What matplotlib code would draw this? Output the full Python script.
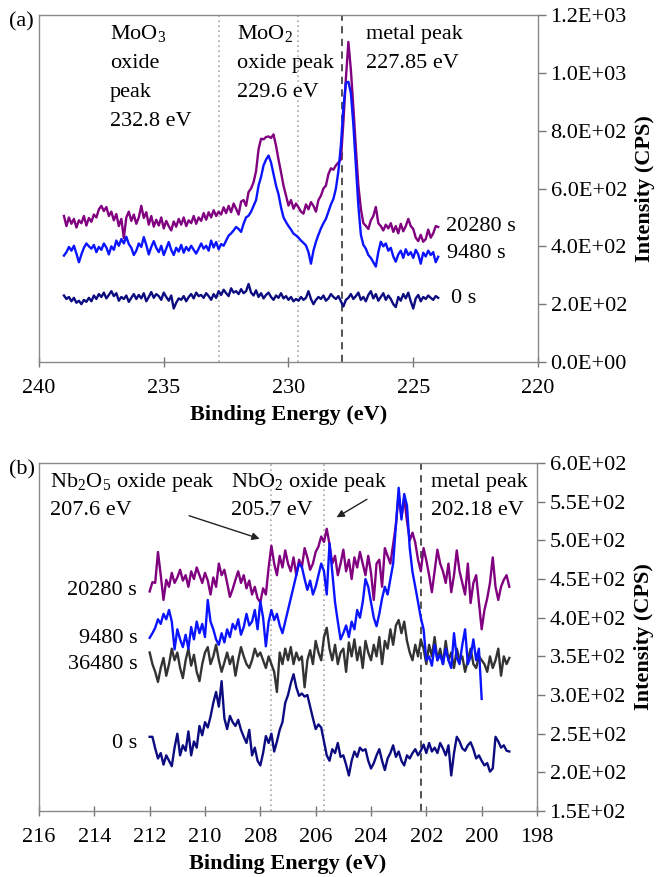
"""XPS depth profile: Mo 3d (a) and Nb 3d (b) spectra at several sputter times."""
import numpy as np
import matplotlib
matplotlib.use("Agg")
import matplotlib.pyplot as plt

plt.rcParams["font.family"] = ["Liberation Serif", "DejaVu Serif"]
plt.rcParams["mathtext.fontset"] = "custom"
plt.rcParams["mathtext.rm"] = "Liberation Serif"

# ---- panel (a): Mo 3d, 239.0 -> 224.0 eV in 0.1 eV channels ----
MO_BE = np.linspace(239.0, 224.0, 151)
MO_20280 = [
    505, 470, 500, 478, 495, 465, 490, 480, 505, 472,
    498, 485, 510, 500, 528, 540, 522, 536, 505, 520,
    490, 512, 470, 495, 428, 500, 520, 488, 510, 478,
    500, 540, 498, 518, 475, 505, 468, 492, 472, 500,
    462, 488, 470, 455, 486, 468, 495, 475, 500, 470,
    490, 480, 505, 478, 500, 488, 515, 492, 518, 500,
    525, 505, 520, 510, 535, 515, 540, 518, 548, 530,
    510, 555, 560, 540, 588, 600, 622, 660, 736, 772,
    770, 778, 780, 775, 787, 748, 700, 656, 610, 576,
    541, 560, 530, 548, 535, 520, 513, 545, 528, 553,
    540, 520, 560, 575, 600, 610, 650, 670, 665, 680,
    690, 700, 830, 980, 1107, 1010, 880, 740, 610, 530,
    480, 471, 460, 490, 505, 536, 480, 470, 455, 475,
    462, 480, 450, 470, 445, 478, 452, 470, 495, 470,
    460, 430, 418, 440, 416, 425, 458, 430, 445, 470,
    467,
]
MO_9480 = [
    368, 380, 398, 385, 402, 375, 345, 372, 395, 410,
    400, 392, 405, 380, 398, 388, 410, 396, 372, 400,
    388, 420, 402, 425, 410, 433, 408, 395, 370, 385,
    410, 398, 432, 405, 372, 398, 418, 395, 380, 402,
    370, 392, 415, 388, 370, 395, 382, 405, 378, 398,
    385, 402, 388, 375, 392, 410, 392, 402, 385, 420,
    396, 415, 390, 408, 402, 420, 437, 445, 455, 467,
    460, 450, 478, 500, 506, 520, 540, 560, 610, 640,
    680, 700, 714, 690, 650, 610, 580, 535, 500, 484,
    470, 458, 444, 438, 430, 420, 412, 403, 380, 340,
    385, 416, 440, 462, 480, 495, 520, 545, 564, 600,
    660, 750, 880, 965, 969, 930, 820, 680, 540, 440,
    405, 392, 370, 360, 345, 330, 380, 416, 400, 410,
    385, 395, 365, 347, 372, 385, 360, 390, 370, 380,
    360, 388, 372, 340, 378, 365, 385, 370, 380, 345,
    364,
]
MO_0 = [
    230, 218, 225, 210, 222, 205, 212, 200, 215, 208,
    222, 210, 230, 218, 235, 225, 240, 220, 232, 245,
    228, 238, 212, 225, 218, 230, 208, 222, 235, 218,
    232, 220, 238, 210, 225, 242, 222, 235, 228, 215,
    240, 225, 212, 230, 185, 205, 220, 215, 228, 210,
    225, 235, 220, 240, 228, 232, 222, 238, 228, 215,
    235, 222, 245, 232, 250, 238, 228, 255, 240, 245,
    235, 252, 238, 245, 270, 240, 230, 248, 225, 238,
    220, 232, 240, 225, 215, 230, 222, 238, 220, 228,
    215, 225, 210, 218, 212, 225, 215, 222, 245, 218,
    200, 215, 225, 218, 230, 212, 220, 235, 225, 218,
    228, 210, 192, 215, 222, 235, 218, 228, 240, 215,
    225, 210, 232, 245, 220, 235, 212, 225, 238, 215,
    230, 218, 200, 190, 225, 212, 235, 220, 240, 210,
    185, 220, 232, 210, 225, 218, 230, 222, 215, 228,
    222,
]
MO_PEAKS = [232.8, 229.6]
MO_METAL = 227.85

# ---- panel (b): Nb 3d, 212.0 -> 199.0 eV in 0.1 eV channels ----
NB_BE = np.linspace(212.0, 199.0, 131)
NB_20280 = [
    434, 446, 445, 485, 455, 423, 449, 440, 458, 445,
    452, 462, 448, 455, 440, 460, 450, 465, 455, 445,
    458, 448, 430, 452, 440, 470, 455, 462, 445, 427,
    437, 449, 460, 445, 455, 438, 448, 430, 440, 425,
    420, 438, 430, 465, 493, 470, 455, 480, 465, 487,
    470, 460, 478, 455, 475, 465, 490, 478, 462, 470,
    485, 492, 505, 498, 515, 495, 470, 480, 455, 470,
    488, 460, 475, 450, 478, 465, 485, 470, 455, 480,
    458, 423, 470, 475, 440, 490, 480, 470, 495, 520,
    560, 530, 555, 525, 500, 510, 497, 475, 460, 490,
    474, 455, 433, 460, 488, 470, 460, 445, 470, 433,
    455, 487, 460, 445, 430, 470, 419, 445, 455, 420,
    385, 410, 425, 445, 478, 440, 423, 440, 449, 455,
    440,
]
NB_9480 = [
    374, 380, 387, 398, 392, 405, 398, 410, 395, 359,
    385, 372, 362, 378, 360, 388, 372, 395, 380, 392,
    375, 423, 395, 385, 372, 365, 380, 368, 385, 375,
    392, 385, 398, 378, 388, 405, 390, 395, 410, 385,
    421, 400, 363, 395, 410, 397, 405, 390, 380, 395,
    410, 425, 440, 455, 470, 466, 450, 436, 448, 430,
    440, 455, 470, 460, 430, 496, 459, 420, 395, 372,
    380, 390, 375, 395, 385, 410, 400, 420, 450, 440,
    420, 400, 389, 405, 425, 440, 430, 450, 470, 520,
    568, 527, 560, 545, 490, 459, 440, 420, 400, 385,
    345, 350, 338, 365, 345, 352, 340, 360, 345, 335,
    380, 348, 340, 365, 385, 340, 350, 372, 345, 360,
    295,
]
NB_36480 = [
    355, 340, 330, 317, 335, 348, 325, 340, 360, 345,
    355, 335, 322, 345, 360, 338, 352, 330, 318, 340,
    355, 362, 340, 350, 365, 345, 330, 342, 355, 340,
    350, 325, 345, 362, 350, 340, 335, 345, 360, 350,
    355, 345, 335, 350, 340, 330, 304, 355, 340, 360,
    345, 362, 340, 355, 345, 350, 310, 345, 358, 340,
    370, 355, 345, 375, 387, 360, 345, 365, 340, 355,
    360, 330, 368, 350, 372, 345, 362, 335, 370, 355,
    345, 365, 350, 375, 340, 370, 360, 385, 365, 390,
    397, 380, 395, 370, 355, 345, 365, 350, 372, 360,
    340, 365, 350, 375, 345, 360, 340, 370, 345, 355,
    335, 360, 345, 350, 330, 345, 360, 340, 335, 350,
    345, 340, 330, 350, 335, 345, 360, 325, 350, 340,
    348,
]
NB_0 = [
    246, 246, 231, 218, 225, 210, 222, 215, 208, 232,
    250, 222, 235, 228, 253, 222, 240, 232, 260, 248,
    265, 258, 272, 290, 304, 285, 318, 270, 256, 273,
    265, 260, 268, 255, 246, 238, 255, 222, 232, 215,
    209, 225, 247, 238, 250, 227, 240, 255, 265, 290,
    300, 315, 327, 310, 299, 302, 298, 300, 285, 270,
    256, 262, 258, 240, 222, 215, 230, 225, 238, 220,
    222, 210, 196, 215, 227, 220, 232, 228, 230, 215,
    205, 212, 222, 230, 215, 203, 218, 225, 235, 220,
    227, 215, 209, 222, 218, 225, 230, 222, 228, 236,
    225, 238, 227, 232, 225, 238, 231, 222, 235, 196,
    225, 246, 240, 231, 228, 235, 239, 230, 218, 222,
    215, 209, 212, 201, 205, 246, 240, 232, 235, 228,
    227,
]
NB_PEAKS = [207.6, 205.7]
NB_METAL = 202.18

PURPLE = "#800080"
BLUE = "#0a14ff"
NAVY = "#0c0c80"
GREY = "#333333"
FS = 16


def style_axis(ax, xlim, xticks, ylim, yticks):
    ax.set_xlim(*xlim)
    ax.set_ylim(*ylim)
    ax.set_xticks(xticks)
    ax.set_yticks(yticks)
    ax.set_xticklabels([f"{t:g}" for t in xticks], fontsize=FS)
    ax.set_yticklabels([f"{t:.1E}" for t in yticks], fontsize=FS)
    ax.yaxis.tick_right()
    ax.yaxis.set_label_position("right")
    ax.tick_params(axis="x", direction="inout", length=7, width=1, color="#777777", pad=9)
    ax.tick_params(axis="y", direction="out", length=6, width=1, color="#777777", pad=3)
    for s in ax.spines.values():
        s.set_color("#8a8a8a")
        s.set_linewidth(1.0)
    ax.set_xlabel("Binding Energy (eV)", fontsize=FS, fontweight="bold", labelpad=5)
    ax.set_ylabel("Intensity (CPS)", fontsize=FS, fontweight="bold", labelpad=6)


def ref_lines(ax, peaks, metal):
    for p in peaks:
        ax.axvline(p, color="#a8a8a8", linestyle=(0, (1, 2)), linewidth=1.2, zorder=1)
    ax.axvline(metal, color="#444444", linestyle=(0, (4, 3)), linewidth=1.3, zorder=1)


def main():
    fig = plt.figure(figsize=(6.62, 8.77), dpi=100)
    ax_a = fig.add_axes([0.0589, 0.5872, 0.7538, 0.3957])
    ax_b = fig.add_axes([0.0589, 0.0752, 0.7523, 0.3968])

    # (a) Mo 3d
    ref_lines(ax_a, MO_PEAKS, MO_METAL)
    ax_a.plot(MO_BE, MO_20280, color=PURPLE, lw=1.7, zorder=3)
    ax_a.plot(MO_BE, MO_9480, color=BLUE, lw=1.7, zorder=4)
    ax_a.plot(MO_BE, MO_0, color=NAVY, lw=1.7, zorder=3)
    style_axis(ax_a, (240, 220), [240, 235, 230, 225, 220],
               (0, 1200), [0, 200, 400, 600, 800, 1000, 1200])
    ax_a.text(223.7, 470, "20280 s", fontsize=FS, va="center")
    ax_a.text(223.65, 375, "9480 s", fontsize=FS, va="center")
    ax_a.text(223.5, 220, "0 s", fontsize=FS, va="center")

    notes_a = [
        (0.142, ["MoO$_3$", "oxide", "peak", "232.8 eV"]),
        (0.397, ["MoO$_2$", "oxide peak", "229.6 eV"]),
        (0.656, ["metal peak", "227.85 eV"]),
    ]
    for xf, lines in notes_a:
        for k, s in enumerate(lines):
            ax_a.text(xf, 0.945 - k * 0.084, s, transform=ax_a.transAxes,
                      fontsize=FS, va="center", ha="left")

    # (b) Nb 3d
    ref_lines(ax_b, NB_PEAKS, NB_METAL)
    ax_b.plot(NB_BE, NB_20280, color=PURPLE, lw=1.7, zorder=3)
    ax_b.plot(NB_BE[:len(NB_9480)], NB_9480, color=BLUE, lw=1.7, zorder=5)
    ax_b.plot(NB_BE, NB_36480, color=GREY, lw=1.7, zorder=4)
    ax_b.plot(NB_BE, NB_0, color=NAVY, lw=1.7, zorder=3)
    style_axis(ax_b, (216, 198), list(range(216, 197, -2)),
               (150, 600), [150, 200, 250, 300, 350, 400, 450, 500, 550, 600])
    for y, s in [(435, "20280 s"), (373, "9480 s"), (340, "36480 s"), (237, "0 s")]:
        ax_b.text(212.45, y, s, fontsize=FS, va="center", ha="right")

    notes_b = [
        (0.023, ["Nb$_2$O$_5$ oxide peak", "207.6 eV"]),
        (0.386, ["NbO$_2$ oxide peak", "205.7 eV"]),
        (0.787, ["metal peak", "202.18 eV"]),
    ]
    for xf, lines in notes_b:
        for k, s in enumerate(lines):
            ax_b.text(xf, 0.943 - k * 0.080, s, transform=ax_b.transAxes,
                      fontsize=FS, va="center", ha="left")

    arrow = dict(arrowstyle="-|>", color="#222222", lw=1.0, mutation_scale=11)
    ax_b.annotate("", xy=(207.93, 501), xytext=(210.67, 533), arrowprops=arrow)
    ax_b.annotate("", xy=(205.33, 528), xytext=(204.06, 555), arrowprops=arrow)

    fig.text(9 / 662, 1 - 22 / 877, "(a)", fontsize=FS, va="center", ha="left")
    fig.text(9 / 662, 1 - 470 / 877, "(b)", fontsize=FS, va="center", ha="left")

    fig.savefig("out.png", dpi=100)
    plt.close(fig)


if __name__ == "__main__":
    main()
